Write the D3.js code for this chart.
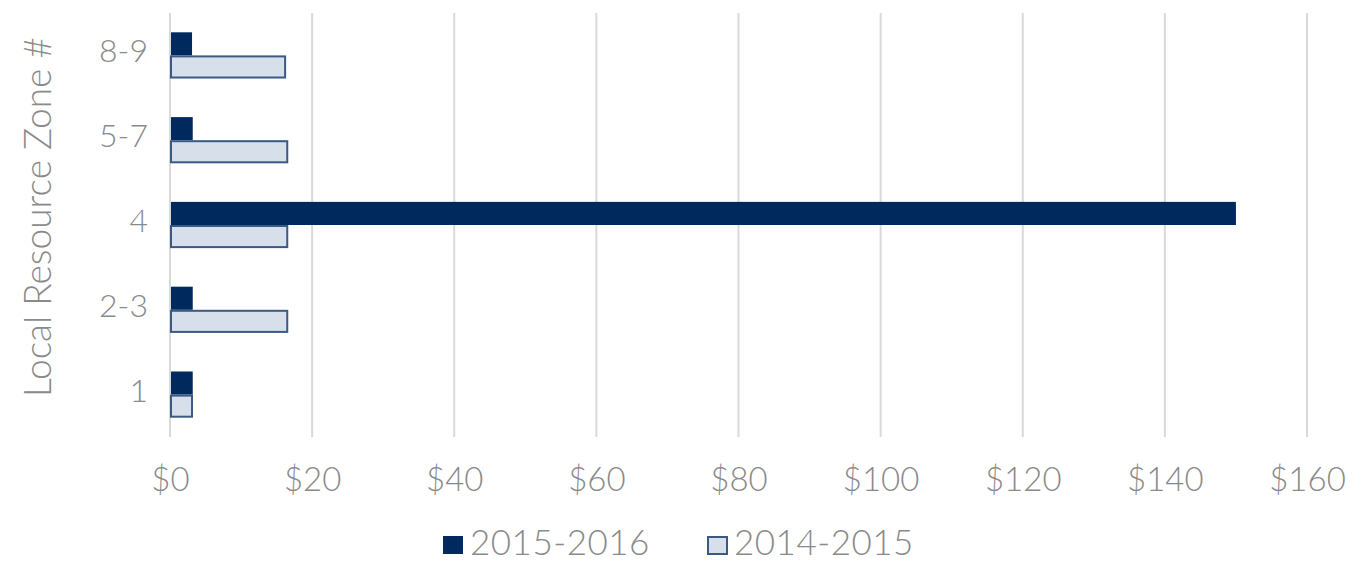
<!DOCTYPE html>
<html>
<head>
<meta charset="utf-8">
<script src="https://cdn.jsdelivr.net/npm/d3@7"></script>
<style>
  body { margin: 0; background: #fff; }
  text { font-family: Lato, "Open Sans", sans-serif; }
</style>
</head>
<body>
<div id="chart"></div>
<script>
// data
var zones = ["8-9", "5-7", "4", "2-3", "1"];
var series = ["2015-2016", "2014-2015"];
var values2015 = [3.1, 3.2, 150.0, 3.2, 3.2];
var values2014 = [16.2, 16.5, 16.5, 16.5, 3.1];
var xTicks = [0, 20, 40, 60, 80, 100, 120, 140, 160];

var svgWidth = 1369, svgHeight = 564;
var margin = { top: 13, left: 170 };
var width = 1137, height = 424;
var textGrey = "#8a8a8a";

var svg = d3.select("#chart").append("svg")
  .attr("width", svgWidth)
  .attr("height", svgHeight);

var chartGroup = svg.append("g")
  .attr("transform", `translate(${margin.left}, ${margin.top})`);

var x = d3.scaleLinear().domain([0, 160]).range([0, width]);
var y = d3.scaleBand().domain(zones).range([0, height]).paddingInner(0.455).paddingOuter(0.2275);
var ySub = d3.scaleBand().domain(series).range([0, y.bandwidth()]);

var colors = { "2015-2016": "#002a5e", "2014-2015": "#d7dfeb" };

// gridlines
chartGroup.selectAll(".grid")
  .data(xTicks)
  .enter()
  .append("line")
  .attr("x1", d => x(d))
  .attr("x2", d => x(d))
  .attr("y1", 0)
  .attr("y2", height)
  .attr("stroke", "#d9d9d9")
  .attr("stroke-width", 2);

// x tick labels
var xAxis = d3.axisBottom(x).tickValues(xTicks).tickFormat(d => "$" + d).tickSize(0).tickPadding(31);
var gx = chartGroup.append("g")
  .attr("transform", `translate(0, ${height})`)
  .call(xAxis);
gx.select(".domain").remove();
gx.selectAll("text")
  .attr("fill", textGrey)
  .style("font-size", "33px")
  .style("font-weight", 300)
  .style("font-family", "Lato, sans-serif");

// y category labels
var yAxis = d3.axisLeft(y).tickSize(0).tickPadding(22);
var gy = chartGroup.append("g").call(yAxis);
gy.select(".domain").remove();
gy.selectAll("text")
  .attr("fill", textGrey)
  .attr("dy", "0.22em")
  .style("font-size", "32px")
  .style("font-weight", 300)
  .style("font-family", "Lato, sans-serif");

// bars
var rows = zones.map((z, i) => ({ zone: z, vals: [
  { key: "2015-2016", value: values2015[i] },
  { key: "2014-2015", value: values2014[i] }
]}));

var groups = chartGroup.selectAll(".zone")
  .data(rows)
  .enter()
  .append("g")
  .attr("transform", d => `translate(0, ${y(d.zone)})`);

groups.selectAll("rect")
  .data(d => d.vals)
  .enter()
  .append("rect")
  .attr("x", 1)
  .attr("y", d => ySub(d.key) + (d.key === "2014-2015" ? 1 : 0))
  .attr("width", d => x(d.value) - 1)
  .attr("height", d => ySub.bandwidth() - (d.key === "2014-2015" ? 2 : 0))
  .attr("fill", d => colors[d.key])
  .attr("stroke", d => d.key === "2014-2015" ? "#3a5983" : "none")
  .attr("stroke-width", 2);

// y axis title
svg.append("text")
  .attr("transform", "rotate(-90)")
  .attr("x", -217)
  .attr("y", 51)
  .style("text-anchor", "middle")
  .style("font-size", "37px")
  .style("font-weight", 300)
  .attr("fill", textGrey)
  .text("Local Resource Zone #");

// legend
var legend = svg.append("g").attr("transform", "translate(443, 536)");
var legendX = [0, 264];
series.forEach(function(s, i) {
  legend.append("rect")
    .attr("x", legendX[i] + (i ? 1 : 0))
    .attr("y", i ? 1 : 0)
    .attr("width", i ? 19 : 20)
    .attr("height", i ? 17 : 18)
    .attr("fill", colors[s])
    .attr("stroke", i ? "#3a5983" : "none")
    .attr("stroke-width", 2);
  legend.append("text")
    .attr("x", legendX[i] + 27)
    .attr("y", 19)
    .style("font-size", "35px")
    .style("letter-spacing", "0.5px")
    .style("font-weight", 300)
    .attr("fill", textGrey)
    .text(s);
});
</script>
</body>
</html>
